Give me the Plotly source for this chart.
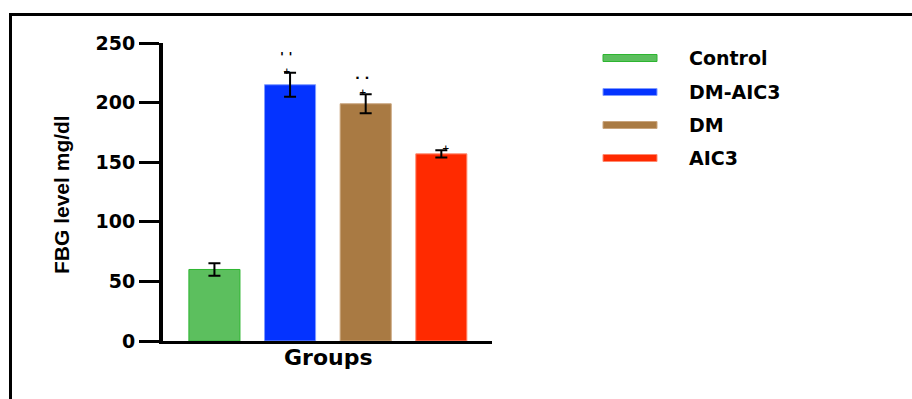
import plotly.graph_objects as go

# ---- data ----
groups = ["Control", "DM-AIC3", "DM", "AIC3"]
fbg_mean = [60, 215, 199, 157]
fbg_err = [5.3, 10, 8, 3]
colors = ["#5CBF5E", "#0433FF", "#A97A43", "#FF2A00"]
edge_colors = ["#2DB530", "#7F9BFF", "#C9A47C", "#FF8A70"]
sig_marks = ["", "' '", "· ·", ""]
cap_marks = ["", "+", "+", "+"]
y_ticks = [0, 50, 100, 150, 200, 250]

W, H = 912, 399
L, R, T, B = 163, 420, 43, 58
PW, PH = W - L - R, H - T - B


def px(xp):
    return (xp - L) / PW


def py(yp):
    return (H - B - yp) / PH


fig = go.Figure()
fig.add_trace(go.Bar(
    x=groups, y=fbg_mean, width=0.675,
    marker=dict(color=colors, line=dict(color=edge_colors, width=1)),
    error_y=dict(type="data", array=fbg_err, visible=True,
                 color="black", thickness=2, width=6),
    showlegend=False,
))

bold_font = dict(family="DejaVu Sans", size=19, color="black", weight="bold")

annotations = [
    dict(text="FBG level mg/dl", x=px(62), y=py(195), xref="paper", yref="paper",
         showarrow=False, textangle=-90, xanchor="center", yanchor="middle",
         font=dict(family="Liberation Sans Narrow, Liberation Sans, Arial", size=21,
                   color="black", weight="bold")),
    dict(text="Groups", x=px(328), y=py(357), xref="paper", yref="paper",
         showarrow=False, xanchor="center", yanchor="middle",
         font=dict(family="DejaVu Sans", size=22, color="black", weight="bold")),
]
for g, m, v, e in zip(groups, sig_marks, fbg_mean, fbg_err):
    if m:
        annotations.append(dict(text=m, x=g, y=v + e, xref="x", yref="y",
                                showarrow=False, yanchor="bottom", yshift=7,
                                xshift=-4,
                                font=dict(family="DejaVu Sans", size=13,
                                          color="black", weight="bold")))
for g, m, v, e in zip(groups, cap_marks, fbg_mean, fbg_err):
    if m:
        annotations.append(dict(text=m, x=g, y=v + e, xref="x", yref="y",
                                showarrow=False, yanchor="middle", yshift=2,
                                xshift=-3 if g != "AIC3" else 5,
                                font=dict(family="DejaVu Sans", size=9,
                                          color="black", weight="bold")))

shapes = [
    dict(type="rect", xref="paper", yref="paper",
         x0=px(10.5), x1=px(930), y0=py(420), y1=py(14.5),
         line=dict(color="black", width=3), fillcolor="rgba(0,0,0,0)"),
]

row_y = [58, 92, 125, 158]
for g, c, ec, ry in zip(groups, colors, edge_colors, row_y):
    shapes.append(dict(type="rect", xref="paper", yref="paper",
                       x0=px(603), x1=px(657), y0=py(ry + 3.5), y1=py(ry - 3.5),
                       fillcolor=c, line=dict(color=ec, width=1)))
    annotations.append(dict(text=g, x=px(687), y=py(ry), xref="paper", yref="paper",
                            showarrow=False, xanchor="left", yanchor="middle",
                            font=dict(family="DejaVu Sans", size=19,
                                      color="black", weight="bold")))

fig.update_layout(
    width=W, height=H,
    margin=dict(l=L, r=R, t=T, b=B, pad=0),
    paper_bgcolor="white", plot_bgcolor="white",
    xaxis=dict(range=[-0.68, 3.67], showticklabels=False, ticks="",
               showline=True, linecolor="black", linewidth=3,
               showgrid=False, zeroline=False, fixedrange=True),
    yaxis=dict(range=[0, 250], tickvals=y_ticks, ticks="outside",
               ticklen=20, tickwidth=3, tickcolor="black",
               showline=True, linecolor="black", linewidth=4,
               showgrid=False, zeroline=False, tickfont=bold_font),
    annotations=annotations,
    shapes=shapes,
    bargap=0.3,
)

fig.write_html("out.html")
